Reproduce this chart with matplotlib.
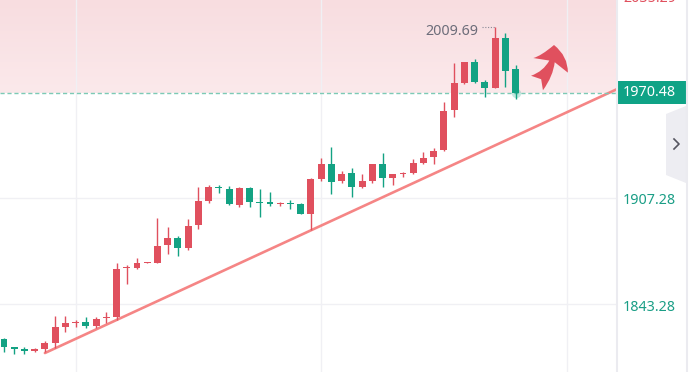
import numpy as np
import matplotlib.pyplot as plt
import matplotlib.transforms as mtransforms
from matplotlib.patches import Rectangle, Polygon, FancyArrowPatch
from matplotlib.lines import Line2D
from matplotlib.colors import LinearSegmentedColormap

plt.rcParams['font.family'] = ['Noto Sans', 'DejaVu Sans']

# --- candle data ---
opens = [1822.3, 1817.5, 1816.6, 1815.0, 1816.3, 1820.2, 1829.8, 1832.0, 1832.6, 1830.2,
         1834.9, 1835.8, 1864.9, 1864.9, 1868.2, 1868.3, 1878.7, 1882.9, 1876.9, 1890.6,
         1905.5, 1913.9, 1912.3, 1902.9, 1912.9, 1904.7, 1904.5, 1903.3, 1903.9, 1903.3,
         1897.5, 1918.4, 1927.4, 1917.5, 1922.3, 1913.9, 1917.5, 1927.5, 1919.3, 1921.4,
         1922.3, 1928.0, 1931.6, 1935.7, 1960.0, 1976.4, 1989.0, 1977.0, 1973.0, 2003.0,
         1984.4]
highs = [1822.9, 1817.6, 1817.5, 1817.2, 1821.4, 1836.3, 1836.3, 1833.9, 1835.8, 1835.8,
         1838.5, 1867.9, 1866.9, 1870.9, 1868.8, 1894.9, 1889.5, 1884.3, 1894.3, 1913.5,
         1914.9, 1914.9, 1914.3, 1913.5, 1913.9, 1912.3, 1910.5, 1904.9, 1905.9, 1903.9,
         1919.3, 1931.0, 1937.9, 1923.3, 1925.0, 1921.4, 1927.6, 1934.0, 1921.5, 1922.9,
         1930.4, 1934.6, 1937.0, 1965.0, 1988.0, 1989.1, 1990.4, 1978.0, 2009.69, 2006.0,
         1987.0]
lows = [1814.8, 1813.4, 1813.4, 1814.5, 1814.8, 1817.2, 1826.8, 1829.8, 1829.2, 1828.9,
        1832.2, 1833.9, 1855.5, 1864.3, 1868.1, 1867.9, 1873.5, 1872.3, 1875.9, 1888.3,
        1904.3, 1910.3, 1903.2, 1901.9, 1901.9, 1895.9, 1902.5, 1902.5, 1900.3, 1897.3,
        1887.9, 1917.5, 1909.5, 1916.3, 1907.9, 1912.9, 1916.3, 1913.9, 1914.9, 1919.5,
        1921.4, 1927.4, 1927.4, 1935.6, 1956.0, 1975.6, 1976.0, 1968.0, 1972.9, 1974.0,
        1966.6]
closes = [1817.8, 1816.4, 1815.2, 1816.4, 1819.9, 1829.6, 1831.9, 1832.8, 1830.4, 1834.3,
          1835.7, 1864.3, 1865.9, 1867.9, 1868.7, 1878.3, 1882.9, 1876.9, 1890.3, 1905.5,
          1913.5, 1912.9, 1903.3, 1912.9, 1904.9, 1904.1, 1903.3, 1903.9, 1903.3, 1897.5,
          1918.4, 1927.4, 1916.9, 1921.4, 1913.9, 1917.5, 1927.5, 1919.3, 1921.4, 1922.3,
          1928.0, 1931.0, 1935.4, 1959.6, 1976.0, 1989.0, 1977.0, 1973.4, 2003.0, 1983.6,
          1970.48]

last_price = 1970.48
high_mark = 2009.69
top_label = '2035.29'
grid_prices = [1907.28, 1843.28]
grid_candles = [7, 31, 55]
trend_x = [4, 62]
trend_y = [1814.0, 1978.4]

RED = '#e0505e'
GREEN = '#13a283'
W, H = 694, 372

fig = plt.figure(figsize=(W / 100, H / 100), dpi=100)
ax = fig.add_axes([0, 0, 616 / W, 1])
ax.set_xlim(-0.39, 59.82)
ax.set_ylim(1802.6, 2026.04)
ax.axis('off')

x = np.arange(len(opens))
o = np.array(opens)
c = np.array(closes)
up = c >= o
colors = np.where(up, RED, GREEN)

# pink zone above the current price
grad = np.linspace(0, 1, 100).reshape(-1, 1)
cmap = LinearSegmentedColormap.from_list('pink', ['#fbe9eb', '#f8dde0'])
ax.imshow(grad, cmap=cmap, origin='lower', aspect='auto',
          extent=[-0.39, 59.82, last_price, 2026.04], zorder=0)

# grid
for gp in grid_prices:
    ax.axhline(gp, color='#f0f0f4', lw=1, zorder=0.5)
for gc in grid_candles:
    ax.axvline(gc, color='#f0f0f4', lw=1, zorder=0.5)

# candles
ax.vlines(x, lows, highs, colors=colors, lw=1.0, zorder=3)
ax.bar(x, np.maximum(np.abs(c - o), 0.7), bottom=np.minimum(o, c), width=0.68,
       color=colors, zorder=3)

# trend line
ax.plot(trend_x, trend_y, color='#f58585', lw=1.9, zorder=2, solid_capstyle='round')

# current price dashed line
ax.axhline(last_price, color='#7ccab6', lw=1, ls=(0, (3, 2)), zorder=2)
ax.scatter([x[-1]], [closes[-1]], s=45, color=GREEN, alpha=0.25, zorder=4, lw=0)

# high annotation
hi_i = int(np.argmax(highs))
ax.plot([hi_i - 1.25, hi_i], [high_mark, high_mark], color='#8a8a96', lw=0.8,
        ls=(0, (1, 1.5)), zorder=2)
ax.annotate(f'{high_mark:.2f}', xy=(hi_i, high_mark), xytext=(-17, -4),
            textcoords='offset pixels', ha='right', va='center',
            fontsize=10.3, color='#6d6d7a')

# red arrow
arrow = FancyArrowPatch((537 / W, 1 - 83 / H), (554 / W, 1 - 45 / H),
                        transform=fig.transFigure, connectionstyle='arc3,rad=0.25',
                        arrowstyle='fancy,head_length=0.55,head_width=1.0,tail_width=0.5',
                        mutation_scale=27, shrinkA=0, shrinkB=0,
                        color=RED, lw=0, zorder=5)
fig.add_artist(arrow)

# right price panel
fig.add_artist(Line2D([616.5 / W] * 2, [0, 1], color='#ebebf0', lw=1.5))
fig.add_artist(Line2D([686.5 / W] * 2, [0, 1], color='#ebebf0', lw=1.5))
ytrans = mtransforms.blended_transform_factory(fig.transFigure, ax.transData)
ylab = ytrans + mtransforms.ScaledTranslation(0, -3 / 100, fig.dpi_scale_trans)
for gp in grid_prices:
    fig.text(623 / W, gp, f'{gp:.2f}', transform=ylab, va='center', ha='left',
             fontsize=10.3, color='#1a9e86')
fig.text(623 / W, 1 + 2 / H, top_label, va='center', ha='left', fontsize=10.3, color=RED)
fig.add_artist(Rectangle((616 / W, 1 - 104 / H), 70 / W, 23 / H, transform=fig.transFigure,
                         color='#0fa386', lw=0))
fig.text(623 / W, last_price, f'{last_price:.2f}', transform=ytrans, va='center', ha='left',
         fontsize=10.3, color='white')

# collapse tab
tab = Polygon([(686 / W, 1 - 106 / H), (666 / W, 1 - 114 / H), (666 / W, 1 - 175 / H),
               (686 / W, 1 - 183 / H)], closed=True, transform=fig.transFigure,
              color='#ededf2', lw=0)
fig.add_artist(tab)
fig.add_artist(Line2D([674 / W, 679 / W, 674 / W], [1 - 139 / H, 1 - 144 / H, 1 - 149 / H],
                      color='#555560', lw=1.2))

fig.savefig('out.png', dpi=100)
